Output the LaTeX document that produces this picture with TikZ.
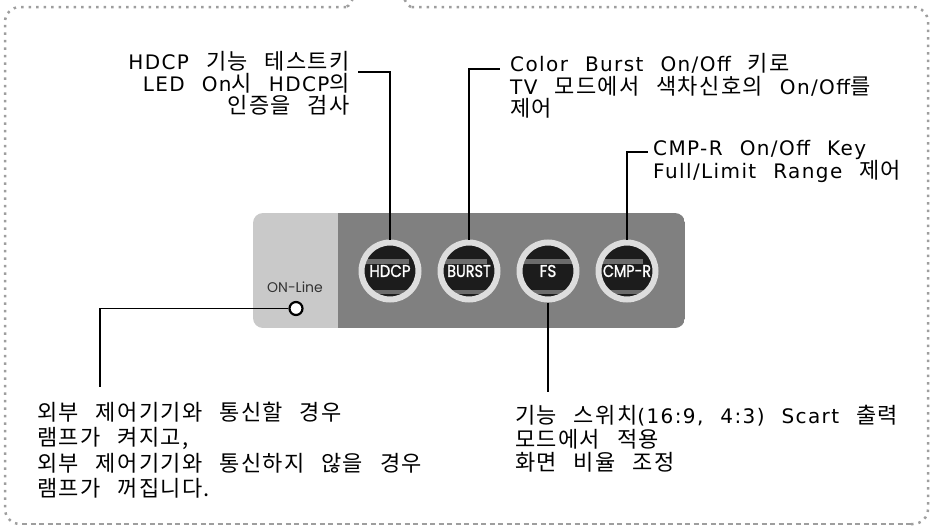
\documentclass[tikz,border=0pt]{standalone}
\usepackage{fontspec}
\usepackage{graphicx}
\setmainfont{DejaVu Sans}[LetterSpace=7]
\newfontfamily\krfont{Noto Sans CJK KR}[LetterSpace=6]
\newfontfamily\btnfont{Poppins}[FakeBold=1.3]
\newfontfamily\lblfont{Poppins}
\newcommand\kr[1]{{\fontsize{22}{22}\krfont #1}}
\newcommand\txtsize[1]{\fontsize{20}{#1}\selectfont\frenchspacing\spaceskip=17pt\xspaceskip=17pt\lineskiplimit=-20pt}
\definecolor{framegray}{HTML}{9E9E9E}
\definecolor{panellight}{HTML}{C9C9C9}
\definecolor{paneldark}{HTML}{808080}
\definecolor{ringgray}{HTML}{DDDDDD}
\definecolor{btnblack}{HTML}{1C1C1C}
\definecolor{bandgray}{HTML}{6C6C6C}
\definecolor{labelgray}{HTML}{333333}
\tikzset{
  dotframe/.style={draw=framegray, line width=2.5pt, dash pattern=on 2.5pt off 5pt},
  dashframe/.style={draw=framegray, line width=1.3pt, dash pattern=on 5pt off 3.5pt},
  btn/.style={circle, minimum size=57pt, inner sep=0pt, fill=btnblack, draw=ringgray,
    line width=6pt, text=white, font=\btnfont\fontsize{17}{17}\selectfont,
    path picture={
      \fill[bandgray, shift={(path picture bounding box.center)}] (-40,-17.5) rectangle (40,17.5);
      \fill[btnblack, shift={(path picture bounding box.center)}] (-40,-13) rectangle (40,13);
    }},
  conn/.style={draw=black, line width=1.3pt},
  txt/.style={inner sep=0pt, text=black, anchor=west, align=left},
}
\begin{document}
\begin{tikzpicture}[x=1pt, y=-1pt]
\useasboundingbox (0,0) rectangle (932,530);
% frame
\draw[dotframe] (353,0) to[out=90,in=0] (346,7);
\draw[dotframe, rounded corners=15] (346,7) -- (5,7) -- (5,524) -- (22,524);
\draw[dashframe] (22,524) -- (911,524);
\draw[dotframe, rounded corners=15] (911,524) -- (928,524) -- (928,7) -- (411,7);
\draw[dotframe] (411,7) to[out=180,in=90] (404,0);
% panel
\begin{scope}
  \clip[rounded corners=10] (253,213) rectangle (685,328);
  \fill[panellight] (253,213) rectangle (338,328);
  \fill[paneldark] (338,213) rectangle (685,328);
\end{scope}
% buttons
\node[btn] (hdcp) at (390,271) {\scalebox{0.88}[1]{HDCP}};
\node[btn] (burst) at (469,271) {\scalebox{0.85}[1]{BURST}};
\node[btn] (fs) at (548,271) {\scalebox{0.9}[1]{FS}};
\node[btn] (cmpr) at (627,271) {\scalebox{0.84}[1]{CMP-R}};
\node[inner sep=0pt, text=labelgray, font=\lblfont\fontsize{14}{14}\selectfont] (online) at (295,287) {ON-Line};
\node[circle, minimum size=13pt, inner sep=0pt, fill=white, draw=black, line width=2.2pt] (led) at (296,308.5) {};
% texts
\node[txt, anchor=east, align=right, font=\txtsize{22}] (thdcp) at (350,83)
  {HDCP \kr{기능 테스트키}\\LED On\kr{시} HDCP\kr{의}\\\kr{인증을 검사}};
\node[txt, font=\txtsize{22.5}] (tburst) at (510,86)
  {Color Burst On/Off \kr{키로}\\TV \kr{모드에서 색차신호의} On/Off\kr{를}\\\kr{제어}};
\node[txt, font=\txtsize{23}] (tcmpr) at (653,161)
  {CMP-R On/Off Key\\Full/Limit Range \kr{제어}};
\node[txt, font=\txtsize{23.5}] (tfs) at (515,439)
  {\kr{기능 스위치}(16:9, 4:3) Scart \kr{출력}\\\kr{모드에서 적용}\\\kr{화면 비율 조정}};
\node[txt, font=\txtsize{25.5}] (tonline) at (37,450)
  {\kr{외부 제어기기와 통신할 경우}\\\kr{램프가 켜지고,}\\\kr{외부 제어기기와 통신하지 않을 경우}\\\kr{램프가 꺼집니다.}};
% connectors
\coordinate (hc) at (358,72);
\coordinate (bc) at (500,69);
\coordinate (cc) at (648,152);
\coordinate (fc) at (548,392);
\coordinate (oc) at (100,387);
\draw[conn] (hdcp.north) |- (hc);
\draw[conn] (burst.north) |- (bc);
\draw[conn] (cmpr.north) |- (cc);
\draw[conn] (fs.south) -- (fc);
\draw[conn] (led.west) -| (oc);
\end{tikzpicture}
\end{document}
